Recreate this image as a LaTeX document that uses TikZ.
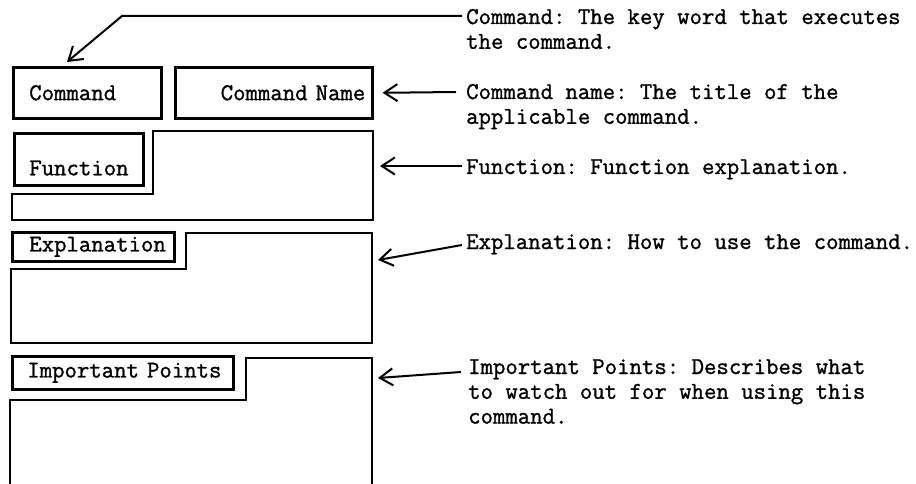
\documentclass[tikz,border=0pt]{standalone}
\usepackage{fontspec}
\setmonofont{Latin Modern Mono}[FakeBold=1.2]
\usepackage{tikz}
\usetikzlibrary{arrows.meta}

\tikzset{
  tab/.style={draw, line width=2.6pt, anchor=north west, inner sep=0pt, align=left},
  note/.style={anchor=base west, inner sep=0pt, align=left},
  frame/.style={line width=2.6pt, line join=miter},
  pointer/.style={line width=2pt, -{Straight Barb[length=13pt, width=17pt]}}
}

\begin{document}
\begin{tikzpicture}[x=1pt, y=-1pt, font=\ttfamily\fontsize{24.1}{24.8}\selectfont]
  \useasboundingbox (0,0) rectangle (916,484);
  \node[tab, minimum width=148pt, minimum height=51pt, text width=116pt] (cmd) at (12,66) {Command};
  \node[tab, minimum width=197pt, minimum height=51pt, text width=183pt, align=right] (cname) at (174,66) {\mbox{Command Name}};
  \node[tab, minimum width=129pt, minimum height=52pt, text width=99pt, text height=32pt, text depth=0pt] (func) at (13,132) {Function};
  \node[tab, minimum width=162pt, minimum height=29pt, text width=128pt] (expl) at (11,231) {Explanation};
  \node[tab, minimum width=221pt, minimum height=33pt, text width=191pt] (point) at (11,355) {\mbox{Important Points}};
  \draw[frame] (153,194) -- (153,131) -- (373,131) -- (373,220) -- (12,220) -- (12,194) -- cycle;
  \draw[frame] (186,269) -- (186,233) -- (372,233) -- (372,343) -- (11,343) -- (11,269) -- cycle;
  \draw[frame] (10,484) -- (10,400) -- (246,400) -- (246,358) -- (372,358) -- (372,484);
  \node[note] (cmdnote) at (466,48.8) {Command: The key word that executes\\the command.};
  \node[note] (namenote) at (466,123.8) {Command name: The title of the\\applicable command.};
  \node[note] (funcnote) at (466,174) {Function: Function explanation.};
  \node[note] (explnote) at (466,249) {Explanation: How to use the command.};
  \node[note] (pointnote) at (468,423.6) {Important Points: Describes what\\to watch out for when using this\\command.};
  \coordinate (cmdbend) at (122,16);
  \coordinate (cmdtip) at (67,62);
  \coordinate (functip) at (380,166);
  \coordinate (expltip) at (378,260);
  \coordinate (pointtip) at (378,378);
  \draw[pointer] ([xshift=-4pt, yshift=32.8pt]cmdnote.base west) -- (cmdbend) -- (cmdtip);
  \draw[pointer] ([xshift=-10pt, yshift=31.8pt]namenote.base west) -- ([xshift=9pt]cname.east);
  \draw[pointer] ([xshift=-4pt, yshift=8pt]funcnote.base west) -- (functip);
  \draw[pointer] ([xshift=-4pt, yshift=4pt]explnote.base west) -- (expltip);
  \draw[pointer] ([xshift=-7pt, yshift=51.6pt]pointnote.base west) -- (pointtip);
\end{tikzpicture}
\end{document}
